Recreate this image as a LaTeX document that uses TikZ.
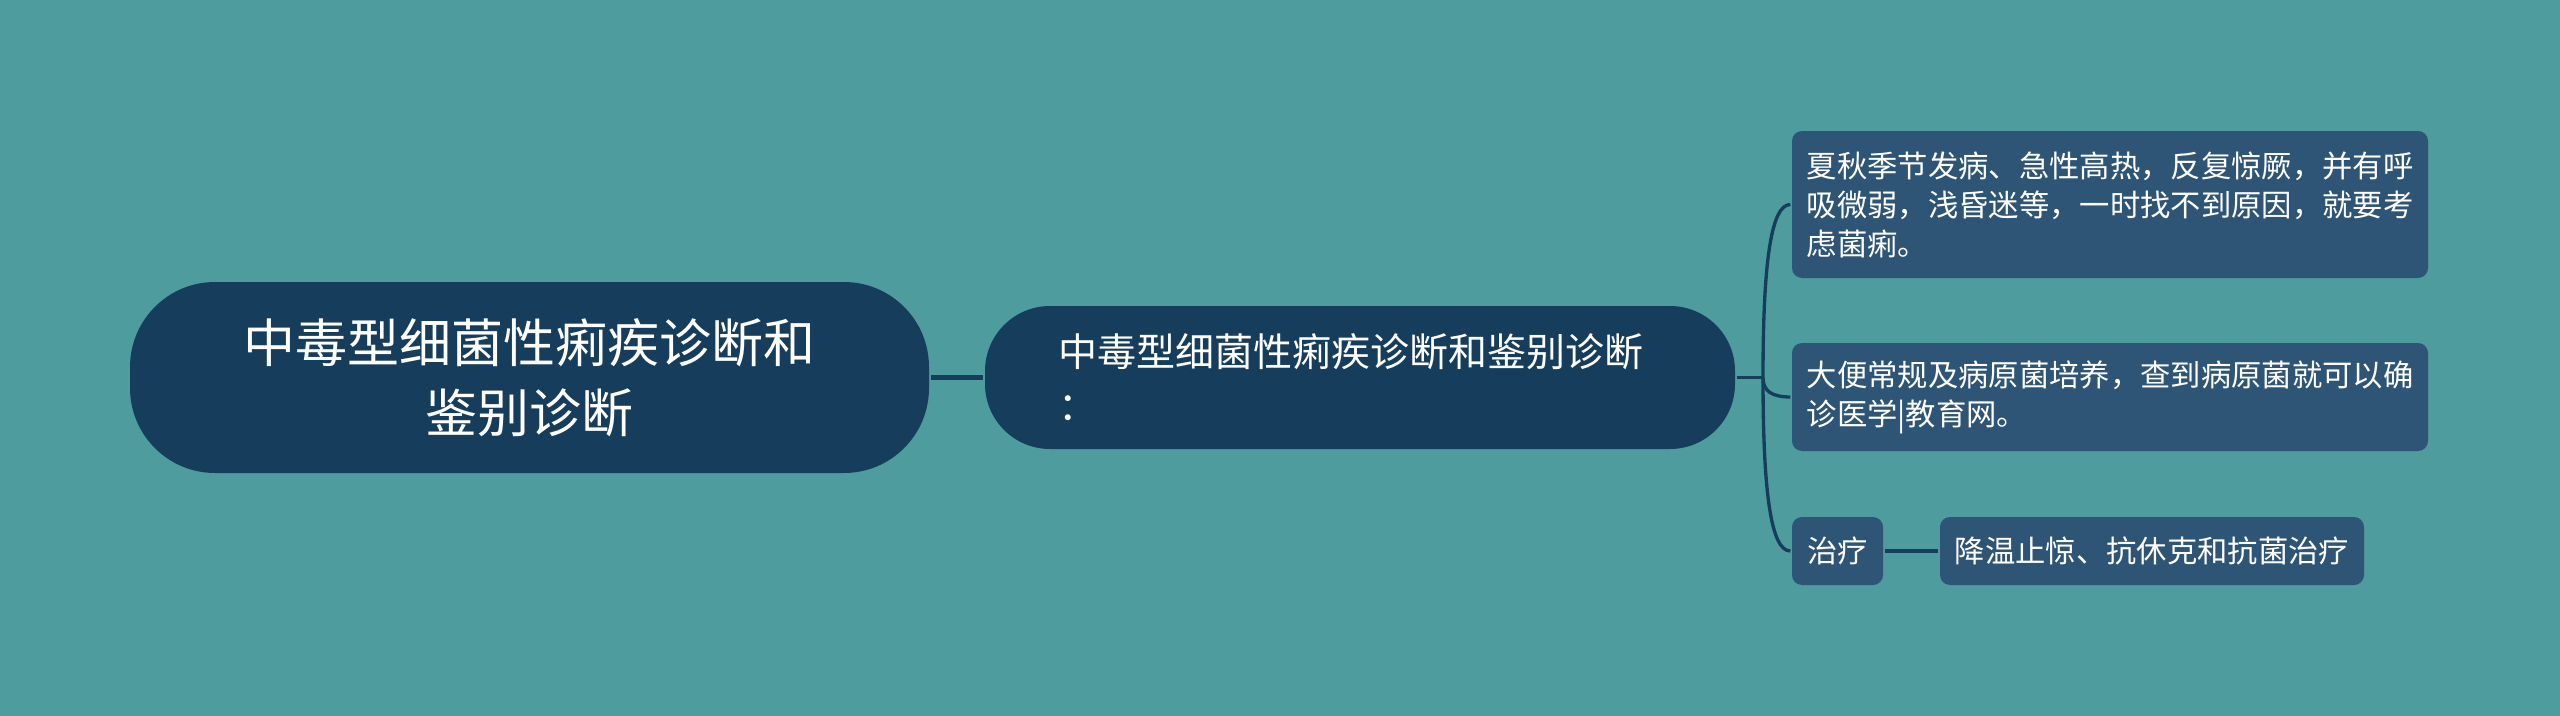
\documentclass[tikz,border=0pt]{standalone}
\usepackage{fontspec}
\setmainfont{Noto Sans CJK SC}
\usetikzlibrary{positioning}
\definecolor{mybg}{RGB}{78,156,157}
\definecolor{mynavy}{RGB}{23,61,92}
\definecolor{myslate}{RGB}{46,85,117}
\newcommand{\TxtRoot}{中毒型细菌性痢疾诊断和\\鉴别诊断}
\newcommand{\TxtMain}{中毒型细菌性痢疾诊断和鉴别诊断\\：}
\newcommand{\TxtSign}{夏秋季节发病、急性高热，反复惊厥，并有呼\\吸微弱，浅昏迷等，一时找不到原因，就要考\\虑菌痢。}
\newcommand{\TxtTest}{大便常规及病原菌培养，查到病原菌就可以确\\诊医学|教育网。}
\newcommand{\TxtCure}{治疗}
\newcommand{\TxtStep}{降温止惊、抗休克和抗菌治疗}

\begin{document}
\begin{tikzpicture}[x=0.3pt,y=-0.3pt,line width=1pt,
  rootbox/.style={fill=mynavy, text=white, rounded corners=25.5pt, align=center,
    minimum width=239.7pt, minimum height=57.3pt, font=\fontsize{15.6pt}{21pt}\selectfont},
  mainbox/.style={fill=mynavy, text=white, rounded corners=19.5pt, align=left,
    text width=181.2pt, inner xsep=21.9pt, minimum height=42.9pt, font=\fontsize{11.7pt}{16.2pt}\selectfont},
  subbox/.style={fill=myslate, text=white, rounded corners=3pt, align=left,
    text width=182pt, inner xsep=4.4pt, font=\fontsize{9.1pt}{11.7pt}\selectfont},
  tipbox/.style={fill=myslate, text=white, rounded corners=3pt, align=center,
    minimum height=20.4pt, inner xsep=0pt, font=\fontsize{9.1pt}{11.7pt}\selectfont},
  link/.style={draw=mynavy}]
  \fill[mybg] (0,0) rectangle (2560,716);
  \useasboundingbox (0,0) rectangle (2560,716);
  \node[rootbox]                         (R)  at (529.5, 377.5) {\TxtRoot};
  \node[mainbox]                         (M)  at (1360, 377.5)  {\TxtMain};
  \node[subbox, minimum height=44.1pt]   (S1) at (2110, 204.5)  {\TxtSign};
  \node[subbox, minimum height=32.4pt]   (S2) at (2110, 397)    {\TxtTest};
  \node[tipbox, minimum width=27.3pt]    (S3) at (1837.5, 551)  {\TxtCure};
  \node[tipbox, minimum width=127.2pt]   (T1) at (2152, 551)    {\TxtStep};
  \coordinate (H) at (1763, 377.5);
  \draw[link, line width=1.4pt] (R) -- (M);
  \draw[link] (M) -- (H);
  \draw[link] (H) .. controls +(0,-115.3) and +(-19.3,0) .. (S1.west);
  \draw[link] (H) .. controls +(0,13) and +(-19.3,0) .. (S2.west);
  \draw[link] (H) .. controls +(0,115.7) and +(-19.3,0) .. (S3.west);
  \draw[link] (S3) -- (T1);
\end{tikzpicture}
\end{document}
